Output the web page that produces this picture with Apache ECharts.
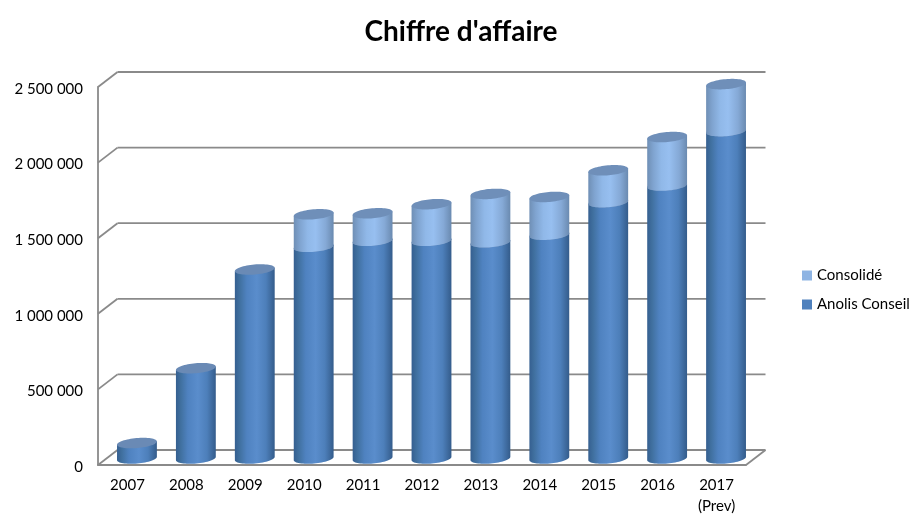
<!DOCTYPE html>
<html><head><meta charset="utf-8">
<style>html,body{margin:0;padding:0;background:#fff}#c{width:919px;height:521px}</style>
<script src="https://cdn.jsdelivr.net/npm/echarts@6/dist/echarts.min.js"></script>
</head><body><div id="c"></div>
<script>
const years = ['2007','2008','2009','2010','2011','2012','2013','2014','2015','2016','2017\n(Prev)'];
const anolis = [102000,597000,1250000,1400000,1440000,1440000,1430000,1480000,1695000,1805000,2165000];
const consolide = [0,0,0,215000,182000,242000,320000,250000,211000,321000,311000];
const ticks = [0,500000,1000000,1500000,2000000,2500000];

const DX = 19.5, DY = 15;      // wall depth
const CX = 9.5, CY = 6.5;      // cylinder axis depth
const RX = 20, RY = 5, TILT = 5 * Math.PI / 180;
const GREY = '#8a8a8a';

function ell(cx, cy, a) {
  const x = RX * Math.cos(a), y = RY * Math.sin(a);
  return [cx + x * Math.cos(TILT) + y * Math.sin(TILT), cy - x * Math.sin(TILT) + y * Math.cos(TILT)];
}
function lowerArc(cx, cy, fromRight) {
  const pts = [];
  for (let k = 0; k <= 32; k++) {
    const a = Math.PI * k / 32;
    pts.push(ell(cx, cy, fromRight ? a : Math.PI - a));
  }
  return pts;
}
function fullEll(cx, cy) {
  const pts = [];
  for (let k = 0; k < 64; k++) pts.push(ell(cx, cy, 2 * Math.PI * k / 64));
  return pts;
}
function grad(stops) {
  return new echarts.graphic.LinearGradient(0, 0, 1, 0, stops.map(s => ({offset: s[0], color: s[1]})));
}
const darkFill = [[0,'#355f90'],[0.12,'#40709f'],[0.3,'#4f82c0'],[0.55,'#5a8dcc'],[0.78,'#4d7fba'],[1,'#345c8b']];
const lightFill = [[0,'#6f8fb5'],[0.15,'#7fa3cf'],[0.35,'#90b8e8'],[0.55,'#97bff0'],[0.8,'#85a9d6'],[1,'#6a8ab0']];

function cylinder(fill, capFill) {
  return function (params, api) {
    const v0 = api.value(1), v1 = api.value(2);
    if (v1 <= v0) return null;
    const p0 = api.coord([api.value(0), v0]), p1 = api.coord([api.value(0), v1]);
    const cx = p0[0] + CX, y0 = p0[1] - CY, y1 = p1[1] - CY;
    const body = lowerArc(cx, y0, true);           // bottom edge, right to left
    body.push(ell(cx, y1, Math.PI));
    body.push(ell(cx, y1, 0));
    return {type: 'group', children: [
      {type: 'polygon', shape: {points: body}, style: {fill: grad(fill), stroke: null}},
      {type: 'polygon', shape: {points: fullEll(cx, y1)}, style: {fill: capFill, stroke: null}}
    ]};
  };
}
function wall(params, api) {
  const r = params.coordSys, v = api.value(0);
  const y = api.coord([0, v])[1];
  const line = (x1, y1, x2, y2) => ({type: 'line', shape: {x1, y1, x2, y2}, style: {stroke: GREY, lineWidth: 1.8}});
  const kids = [
    line(r.x, y, r.x + DX, y - DY),
    line(r.x + DX, y - DY, r.x + r.width + DX, y - DY)
  ];
  if (v === 0) kids.push(line(r.x + r.width, y, r.x + r.width + DX, y - DY));
  return {type: 'group', children: kids};
}

const chart = echarts.init(document.getElementById('c'), null, {renderer: 'canvas'});
chart.setOption({
  animation: false,
  backgroundColor: '#fff',
  textStyle: {fontFamily: 'Lato'},
  title: {text: "Chiffre d'affaire", left: 456, textAlign: 'center', top: 13,
    textStyle: {fontFamily: 'Lato', fontWeight: 'bold', fontSize: 28, color: '#000'}},
  legend: {data: ['Consolidé', 'Anolis Conseil'], orient: 'vertical', left: 797, top: 263,
    icon: 'rect', itemWidth: 10, itemHeight: 10, itemGap: 14,
    textStyle: {fontFamily: 'Lato', fontSize: 15, color: '#000'}},
  grid: {left: 98, right: 173, top: 87, bottom: 56},
  xAxis: {type: 'category', data: years, axisTick: {show: false},
    axisLine: {lineStyle: {color: GREY, width: 1.8}},
    axisLabel: {color: '#000', fontFamily: 'Lato', fontSize: 15, margin: 10, lineHeight: 21}},
  yAxis: {type: 'value', min: 0, max: 2500000, interval: 500000, splitLine: {show: false},
    axisTick: {show: false},
    axisLine: {show: true, lineStyle: {color: GREY, width: 1.8}},
    axisLabel: {color: '#000', fontFamily: 'Lato', fontSize: 15, margin: 15, verticalAlign: 'top', lineHeight: 4,
      formatter: v => String(v).replace(/\B(?=(\d{3})+$)/g, ' ')}},
  series: [
    {type: 'custom', name: 'walls', silent: true, z: 1, renderItem: wall,
      data: ticks.map(t => [t]), encode: {y: 0}},
    {type: 'custom', name: 'Anolis Conseil', z: 2, itemStyle: {color: '#4f81bd'},
      renderItem: cylinder(darkFill, '#6a8ab5'),
      encode: {x: 0, y: [1, 2]},
      data: anolis.map((v, i) => [i, 0, v])},
    {type: 'custom', name: 'Consolidé', z: 3, itemStyle: {color: '#8eb4e3'},
      renderItem: cylinder(lightFill, '#6f8fb9'),
      encode: {x: 0, y: [1, 2]},
      data: consolide.map((v, i) => [i, anolis[i], anolis[i] + v])}
  ]
});
</script></body></html>
